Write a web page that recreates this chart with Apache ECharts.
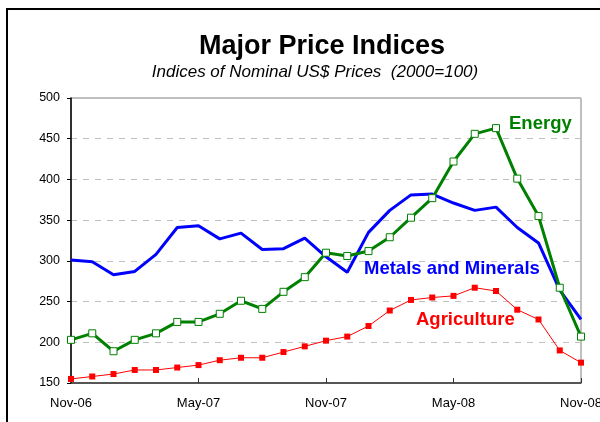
<!DOCTYPE html>
<html lang="en">
<head>
    <meta charset="utf-8">
    <title>Major Price Indices</title>
    <script src="https://cdn.jsdelivr.net/npm/echarts@6.0.0/dist/echarts.min.js"></script>
    <style>
        html, body { margin: 0; padding: 0; background: #fff; overflow: hidden; }
        #frame { position: absolute; left: 6px; top: 8px; width: 700px; height: 500px; border: 2px solid #000; box-sizing: border-box; }
        #chart { position: absolute; left: 0; top: 0; width: 600px; height: 422px; }
    </style>
</head>
<body>
    <div id="frame"></div>
    <div id="chart"></div>
    <script>
        // Monthly, Nov-06 .. Nov-08
        const months = ['Nov-06', 'Dec-06', 'Jan-07', 'Feb-07', 'Mar-07', 'Apr-07', 'May-07',
            'Jun-07', 'Jul-07', 'Aug-07', 'Sep-07', 'Oct-07', 'Nov-07', 'Dec-07', 'Jan-08',
            'Feb-08', 'Mar-08', 'Apr-08', 'May-08', 'Jun-08', 'Jul-08', 'Aug-08', 'Sep-08',
            'Oct-08', 'Nov-08'];
        const metals = [301, 299, 283, 287, 308, 341, 343, 327, 334, 314, 315, 328, 305,
            286, 335, 362, 381, 382, 371, 362, 366, 341, 322, 264, 228];
        const energy = [203, 211, 189, 203, 211, 225, 225, 235, 251, 241, 262, 280, 310,
            306, 312, 329, 353, 377, 422, 456, 463, 401, 355, 267, 207];
        const agriculture = [155, 158, 161, 166, 166, 169, 172, 178, 181, 181, 188, 195, 202,
            207, 220, 239, 252, 255, 257, 267, 263, 240, 228, 190, 175];

        const chart = echarts.init(document.getElementById('chart'));
        const font = 'Liberation Sans, Arial, sans-serif';

        chart.setOption({
            animation: false,
            textStyle: { fontFamily: font },
            grid: {
                left: 71, right: 19, top: 98, bottom: 39,
                outerBoundsMode: 'none',
                show: true, borderColor: '#808080', borderWidth: 1
            },
            xAxis: {
                type: 'category',
                data: months,
                boundaryGap: false,
                axisLine: { lineStyle: { color: '#333', width: 1.5 } },
                axisTick: { interval: 5, inside: true, length: 5, lineStyle: { color: '#333' } },
                axisLabel: { interval: 5, margin: 14, fontSize: 13, color: '#000', fontFamily: font },
                splitLine: { show: false }
            },
            yAxis: {
                type: 'value',
                min: 150, max: 500, interval: 50,
                axisLine: { show: true, lineStyle: { color: '#000', width: 1.5 } },
                axisTick: { show: true, length: 4, lineStyle: { color: '#000' } },
                axisLabel: { margin: 11, fontSize: 12.5, color: '#000', fontFamily: font },
                splitLine: { lineStyle: { color: '#c0c0c0', type: [6, 6] } }
            },
            series: [
                {
                    name: 'Metals and Minerals',
                    type: 'line',
                    data: metals,
                    showSymbol: false,
                    lineStyle: { color: '#0000ff', width: 3 },
                    itemStyle: { color: '#0000ff' },
                    z: 2
                },
                {
                    name: 'Agriculture',
                    type: 'line',
                    data: agriculture,
                    symbol: 'rect',
                    symbolSize: 6,
                    lineStyle: { color: '#ff0000', width: 1 },
                    itemStyle: { color: '#ff0000' },
                    z: 3
                },
                {
                    name: 'Energy',
                    type: 'line',
                    data: energy,
                    symbol: 'rect',
                    symbolSize: 7,
                    lineStyle: { color: '#008000', width: 3 },
                    itemStyle: { color: '#ffffff', borderColor: '#008000', borderWidth: 1 },
                    z: 4
                }
            ],
            graphic: [
                // title + subtitle
                {
                    type: 'text', x: 322, y: 33, z: 10,
                    style: { text: 'Major Price Indices', fill: '#000', align: 'center', verticalAlign: 'top',
                        font: 'bold 27px ' + font }
                },
                {
                    type: 'text', x: 315, y: 64, z: 10,
                    style: { text: 'Indices of Nominal US$ Prices  (2000=100)', fill: '#000', align: 'center',
                        verticalAlign: 'top', font: 'italic 17px ' + font }
                },
                // series labels
                {
                    type: 'text', left: 509, top: 114, z: 10,
                    style: { text: 'Energy', fill: '#008000', font: 'bold 18.5px ' + font }
                },
                {
                    type: 'text', left: 364, top: 259, z: 10,
                    style: { text: 'Metals and Minerals', fill: '#0000ff', font: 'bold 18.5px ' + font }
                },
                {
                    type: 'text', left: 416, top: 310, z: 10,
                    style: { text: 'Agriculture', fill: '#ff0000', font: 'bold 18.5px ' + font }
                }
            ]
        });

        window.addEventListener('resize', function() {
            chart.resize();
        });
    </script>
</body>
</html>
